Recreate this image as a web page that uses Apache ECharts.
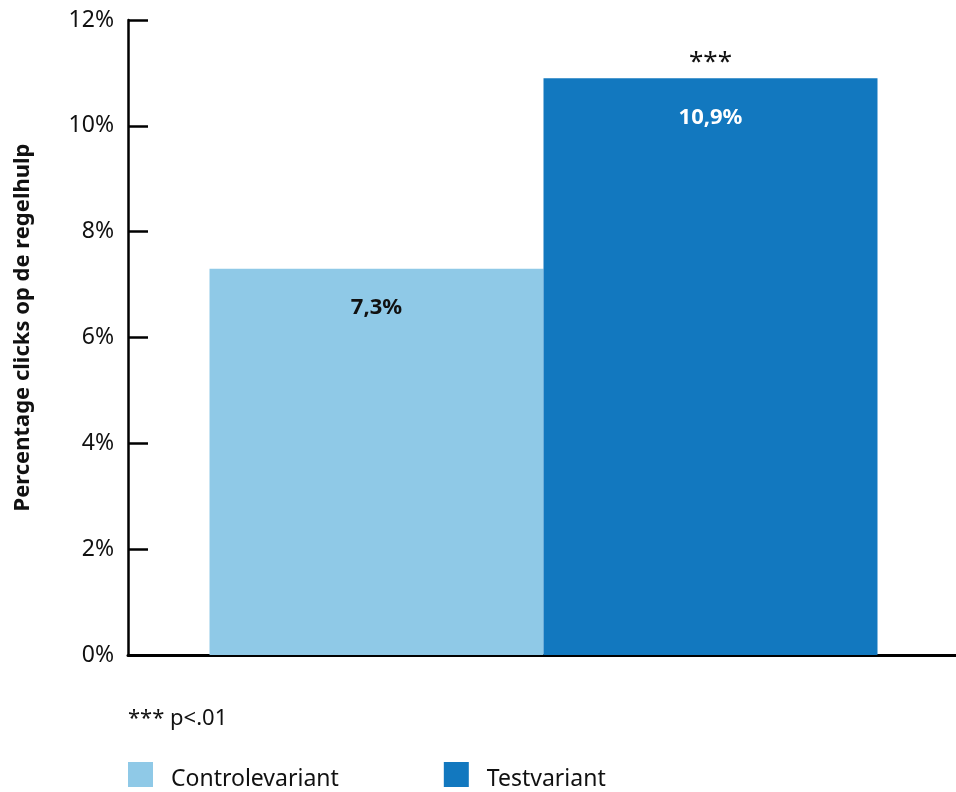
<!DOCTYPE html>
<html>
<head>
<meta charset="utf-8">
<script src="https://cdn.jsdelivr.net/npm/echarts@6/dist/echarts.min.js"></script>
<style>
html, body { margin: 0; padding: 0; background: #fff; }
#chartMain { width: 956px; height: 792px; }
</style>
</head>
<body>
<div id="chartMain"></div>
<script>
var categories = [''];
var controleValues = [7.3];
var testValues = [10.9];
var sigValues = [0];
var seriesNames = ['Controlevariant', 'Testvariant'];
var yTicks = [0, 2, 4, 6, 8, 10, 12];

var fontName = '"Noto Sans", "Open Sans", sans-serif';

function fmtPct(v) {
    return String(v).replace('.', ',') + '%';
}

var myChart = echarts.init(document.getElementById('chartMain'));
var option = {
    animation: false,
    textStyle: { fontFamily: fontName },
    grid: { left: 128, right: -3, top: 20, bottom: 137, containLabel: false, outerBoundsMode: 'none' },
    legend: {
        data: seriesNames,
        left: 123,
        top: 757,
        icon: 'rect',
        itemWidth: 25,
        itemHeight: 25,
        itemGap: 105,
        formatter: '{t|{name}}',
        textStyle: {
            fontSize: 23, color: '#111', fontFamily: fontName, padding: [0, 0, 0, 13],
            rich: { t: { fontSize: 23, color: '#111', fontFamily: fontName, padding: [10, 0, 0, 0] } }
        }
    },
    graphic: [{
        type: 'text',
        left: 128,
        top: 708,
        style: { text: '*** p<.01', font: '22px ' + fontName, fill: '#111' }
    }],
    xAxis: {
        type: 'category',
        data: categories,
        axisLine: { lineStyle: { color: '#000', width: 3 } },
        axisTick: { show: false },
        axisLabel: { show: false }
    },
    yAxis: {
        type: 'value',
        min: yTicks[0],
        max: yTicks[yTicks.length - 1],
        interval: 2,
        name: 'Percentage clicks op de regelhulp',
        nameLocation: 'middle',
        nameGap: 94,
        nameTextStyle: { fontSize: 22, fontWeight: 'bold', color: '#111', fontFamily: fontName, padding: [0, 0, 0, 20] },
        axisLine: { show: true, lineStyle: { color: '#000', width: 2.5 } },
        axisTick: { show: true, inside: true, length: 20, lineStyle: { color: '#000', width: 2.5 } },
        axisLabel: { fontSize: 23, color: '#111', margin: 14, formatter: function (v) { return v + '%'; } },
        splitLine: { show: false }
    },
    series: [{
        name: seriesNames[0],
        type: 'bar',
        stack: 'a',
        data: controleValues,
        barWidth: 334,
        barGap: '0%',
        itemStyle: { color: '#8fc9e7' },
        label: {
            show: true, position: 'insideTop', distance: 28,
            fontSize: 22, fontWeight: 'bold', color: '#111',
            formatter: function (p) { return fmtPct(p.value); }
        }
    }, {
        name: seriesNames[1],
        type: 'bar',
        stack: 'b',
        data: testValues,
        barWidth: 334,
        barGap: '0%',
        itemStyle: { color: '#1278bf' },
        label: {
            show: true, position: 'insideTop', distance: 29,
            fontSize: 22, fontWeight: 'bold', color: '#fff',
            formatter: function (p) { return fmtPct(p.value); }
        }
    }, {
        name: 'sig',
        type: 'bar',
        stack: 'b',
        data: sigValues,
        barWidth: 334,
        itemStyle: { color: 'transparent' },
        label: {
            show: true, position: 'top', distance: 3,
            fontSize: 26, fontWeight: 'normal', color: '#111',
            formatter: '***'
        }
    }]
};
myChart.setOption(option);
</script>
</body>
</html>
